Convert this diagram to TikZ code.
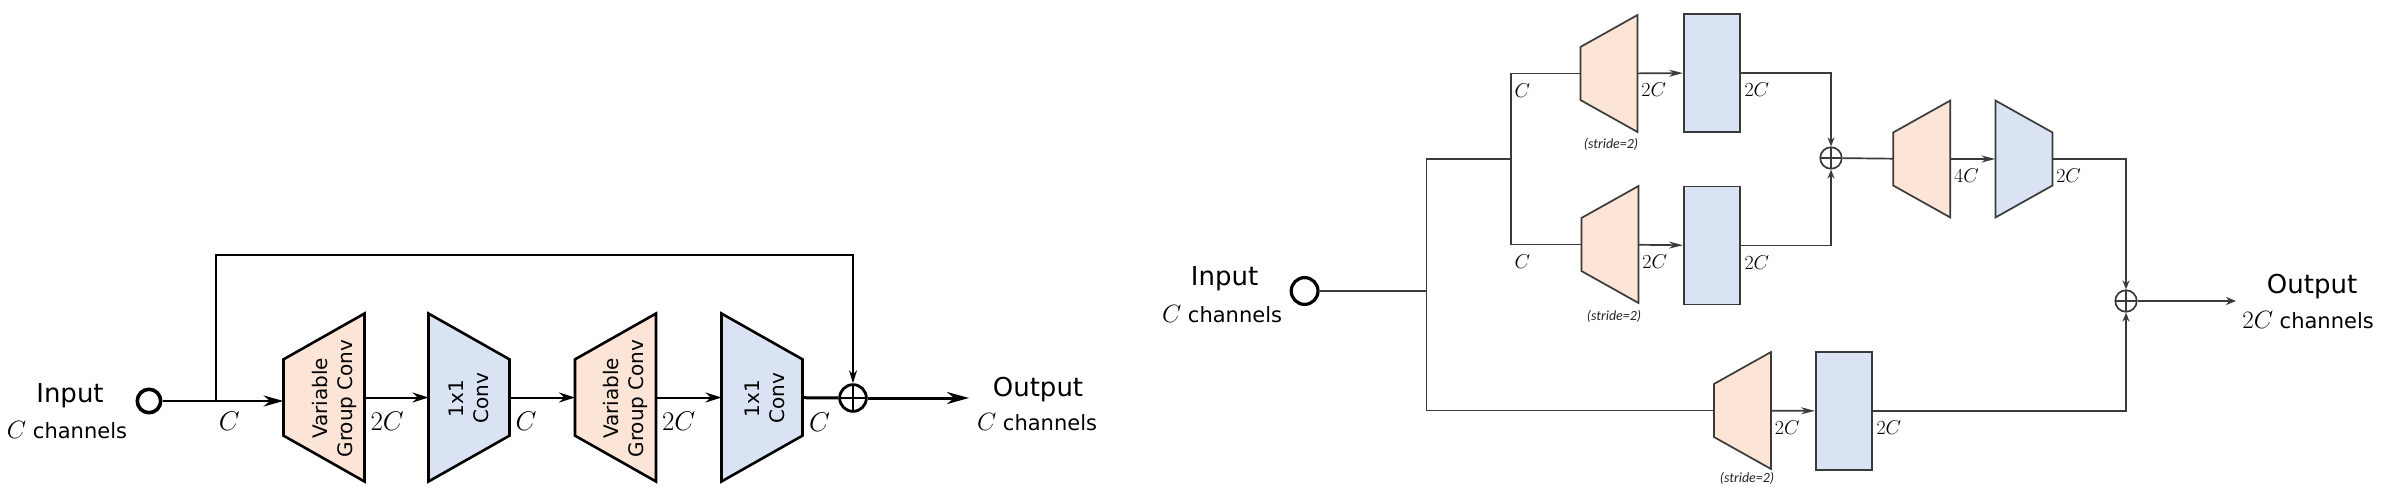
\RequirePackage{fix-cm}
\documentclass[tikz,border=0pt]{standalone}
\usepackage{fontspec}
\usetikzlibrary{shapes.geometric,arrows.meta,positioning}
\newfontfamily\dejavu{DejaVu Sans}
\newfontfamily\carlito{Carlito}
\definecolor{peach}{HTML}{FCE4D6}
\definecolor{paleblue}{HTML}{DAE3F3}
\definecolor{darkline}{HTML}{3A3A3A}

\tikzset{
  trap/.style={trapezium, trapezium stretches=true, trapezium left angle=59,
    trapezium right angle=59, inner sep=1pt, outer sep=0pt, draw},
  growL/.style={trap, rotate=90, fill=peach, line width=2.6pt, minimum width=168pt, minimum height=81pt},
  shrinkL/.style={trap, rotate=270, fill=paleblue, line width=2.6pt, minimum width=168pt, minimum height=81pt},
  growR/.style={trap, rotate=90, fill=peach, draw=darkline, line width=1.7pt, minimum width=117pt, minimum height=57pt},
  shrinkR/.style={trap, rotate=270, fill=paleblue, draw=darkline, line width=1.7pt, minimum width=117pt, minimum height=57pt},
  convR/.style={rectangle, draw=darkline, fill=paleblue, line width=1.7pt, minimum width=56pt, minimum height=118pt, inner sep=0pt},
  boxtext/.style={rotate=90, align=center, inner sep=0pt, font=\fontsize{20}{25}\selectfont\dejavu},
  plusmark/.style={circle, draw, inner sep=0pt, path picture={
      \draw[line width=#1] (path picture bounding box.north) -- (path picture bounding box.south)
        (path picture bounding box.west) -- (path picture bounding box.east);}},
  plusL/.style={plusmark=2pt, line width=2.8pt, minimum size=26.7pt},
  plusR/.style={plusmark=1.4pt, draw=darkline, line width=1.7pt, minimum size=21.5pt},
  inL/.style={circle, draw, line width=3.6pt, minimum size=23.4pt, inner sep=0pt},
  inR/.style={circle, draw, line width=3.2pt, minimum size=26.8pt, inner sep=0pt},
  iotext/.style={anchor=base, inner sep=0pt, font=\fontsize{26}{30}\selectfont\dejavu},
  chtext/.style={anchor=base, inner sep=0pt, font=\fontsize{21}{25}\selectfont\dejavu},
  lblL/.style={anchor=north west, inner sep=0pt, xshift=5pt, yshift=-14pt, font=\fontsize{27}{30}\selectfont},
  lblR/.style={anchor=north west, inner sep=0pt, xshift=3pt, yshift=-9pt, font=\fontsize{20}{24}\selectfont},
  stride/.style={inner sep=0pt, text=black!85, font=\fontsize{14}{16}\selectfont\carlito\itshape},
  mainL/.style={line width=2.4pt},
  boxL/.style={line width=2pt},
  skipL/.style={line width=1.8pt},
  outL/.style={line width=3pt},
  lineR/.style={draw=darkline, line width=1.7pt},
  arrL/.style={-{Stealth[length=20pt,width=11pt]}},
  arrB/.style={-{Stealth[length=16pt,width=10pt]}},
  arrS/.style={-{Stealth[length=13pt,width=8pt]}},
  arrO/.style={-{Stealth[length=22pt,width=12pt]}},
  arrR/.style={-{Stealth[length=14pt,width=7pt]}},
  arrP/.style={-{Stealth[length=9pt,width=7pt]}},
  arrOR/.style={-{Stealth[length=10pt,width=8pt]}},
}

\newcommand{\bigC}{{\fontsize{25}{25}\selectfont$C$}}
\newcommand{\bigtwoC}{{\fontsize{25}{25}\selectfont$2C$}}

\begin{document}
\begin{tikzpicture}[x=1pt,y=-1pt]
\useasboundingbox (0,0) rectangle (2382,493);

\node[iotext] (inTL) at (70,402) {Input};
\node[chtext] (inCL) at (67,438) {\bigC{} channels};
\node[inL] (cinL) at (149,401) {};
\coordinate (skip) at (216,255);
\node[growL] (g1) at (324,397.5) {};
\node[shrinkL] (b1) at (469,397.5) {};
\node[growL] (g2) at (615.5,397.5) {};
\node[shrinkL] (b2) at (762,397.5) {};
\node[boxtext] (tg1) at (334,398.5) {Variable\\Group Conv};
\node[boxtext] (tb1) at (469,398.5) {1x1\\Conv};
\node[boxtext] (tg2) at (625,398.5) {Variable\\Group Conv};
\node[boxtext] (tb2) at (765,398.5) {1x1\\Conv};
\node[plusL] (add1) at (853,398) {};
\coordinate (endL) at (969,398);
\node[iotext] (outTL) at (1038,396) {Output};
\node[chtext] (outCL) at (1037,430) {\bigC{} channels};

\draw[mainL, arrL] (cinL) -- (cinL -| g1.north);
\draw[skipL, arrS] (cinL -| skip) node[lblL, xshift=-3pt, yshift=4pt] (lc0) {$C$} -- (skip) -| (add1);
\draw[boxL, arrB] (g1) -- (b1) node[pos=0, lblL] (lc1) {$2C$};
\draw[boxL, arrB] (b1) -- (g2) node[pos=0, lblL] (lc2) {$C$};
\draw[boxL, arrB] (g2) -- (b2) node[pos=0, lblL] (lc3) {$2C$};
\draw[outL] (b2) -- (add1) node[pos=0, lblL] (lc4) {$C$};
\draw[outL, arrO] (add1) -- (endL);

\node[iotext] (inTR) at (1224.6,285) {Input};
\node[chtext] (inCR) at (1222,322) {\bigC{} channels};
\node[inR] (cinR) at (1304.6,291) {};
\coordinate (sp1) at (1426.5,291);
\coordinate (sp2) at (1510.7,159);
\node[growR] (ga) at (1609,73.5) {};
\node[convR] (ca) at (1711.8,73) {};
\node[growR] (gb) at (1610,244.5) {};
\node[convR] (cb) at (1711.8,245.5) {};
\node[growR] (gc) at (1742.5,410.5) {};
\node[convR] (cc) at (1843.8,411) {};
\node[stride] (sa) at (1611,144) {(stride=2)};
\node[stride] (sb) at (1614,316) {(stride=2)};
\node[stride] (sc) at (1747,478) {(stride=2)};
\node[plusR] (add2) at (1831,158) {};
\node[growR] (gd) at (1921.8,159) {};
\node[shrinkR] (bd) at (2023.9,159) {};
\node[plusR] (add3) at (2126,301) {};
\coordinate (endR) at (2236,301);
\node[iotext] (outTR) at (2312,293) {Output};
\node[chtext] (outCR) at (2308,328) {\bigtwoC{} channels};

\draw[lineR] (cinR) -- (sp1);
\draw[lineR] (sp1) |- (sp2);
\draw[lineR] (sp1) |- (gc);
\draw[lineR] (sp2) |- (ga) node[pos=0.5, lblR] (lr1) {$C$};
\draw[lineR] (sp2) |- (gb) node[pos=0.5, lblR] (lr2) {$C$};
\draw[lineR, arrR] (ga) -- (ca) node[pos=0, lblR] (lr3) {$2C$};
\draw[lineR, arrR] (gb) -- (cb) node[pos=0, lblR] (lr4) {$2C$};
\draw[lineR, arrR] (gc) -- (cc) node[pos=0, lblR] (lr5) {$2C$};
\draw[lineR, arrP] (ca) -| (add2) node[pos=0, lblR] (lr6) {$2C$};
\draw[lineR, arrP] (cb) -| (add2) node[pos=0, lblR] (lr7) {$2C$};
\draw[lineR] (add2) -- (gd);
\draw[lineR, arrR] (gd) -- (bd) node[pos=0, lblR] (lr8) {$4C$};
\draw[lineR, arrP] (bd) -| (add3) node[pos=0, lblR] (lr9) {$2C$};
\draw[lineR, arrP] (cc) -| (add3) node[pos=0, lblR] (lr10) {$2C$};
\draw[lineR, arrOR] (add3) -- (endR);
\end{tikzpicture}
\end{document}
